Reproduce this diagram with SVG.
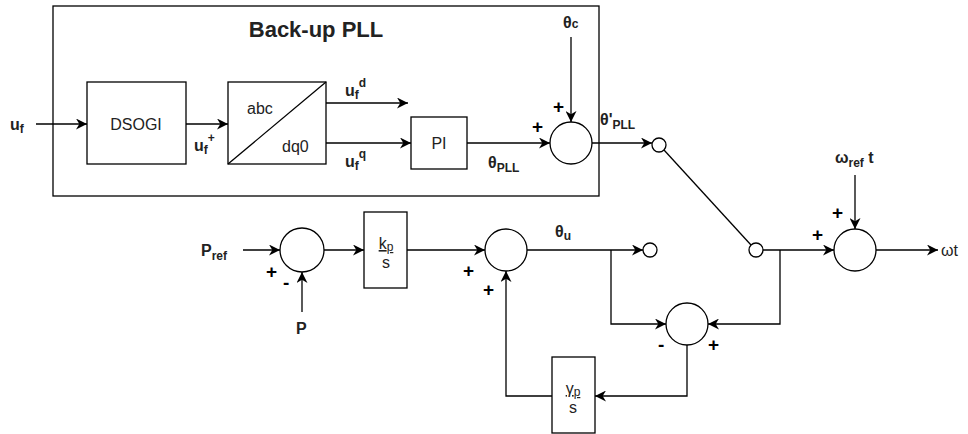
<svg xmlns="http://www.w3.org/2000/svg" width="968" height="434" viewBox="0 0 968 434">
<defs>
<marker id="ah" viewBox="0 0 10 10" refX="10" refY="5" markerWidth="11" markerHeight="11" markerUnits="userSpaceOnUse" orient="auto">
<path d="M0,0 L10,5 L0,10 L3,5 z" fill="#000"/>
</marker>
<style>
.b{fill:#fff;stroke:#000;stroke-width:1.3}
.l{fill:none;stroke:#000;stroke-width:1.3}
.a{fill:none;stroke:#000;stroke-width:1.3;marker-end:url(#ah)}
.t{font-family:"Liberation Sans",Arial,sans-serif;font-size:16px;fill:#222}
.m{font-family:"Liberation Sans",Arial,sans-serif;font-size:16px;font-weight:bold;fill:#222}
.s{font-size:12px}
.pm{font-family:"Liberation Sans",Arial,sans-serif;font-size:19px;font-weight:bold;fill:#000}
</style>
</defs>
<rect width="968" height="434" fill="#fff"/>
<g id="pll-box">
<rect class="b" x="53" y="6" width="546" height="190" fill="none"/>
<text class="t" x="316" y="37" text-anchor="middle" style="font-size:22px;font-weight:bold">Back-up PLL</text>
</g>
<g id="dsogi"><rect class="b" x="87" y="82" width="99" height="82"/><text class="t" x="136" y="130" text-anchor="middle">DSOGI</text></g>
<g id="abc-dq0"><rect class="b" x="228" y="82" width="98" height="82"/><line class="l" x1="228" y1="164" x2="326" y2="82"/><text class="t" x="247" y="114">abc</text><text class="t" x="282" y="152">dq0</text></g>
<g id="pi"><rect class="b" x="411" y="117" width="56" height="52"/><text class="t" x="439" y="149" text-anchor="middle">PI</text></g>
<g id="sum-pll"><circle class="b" cx="571" cy="143" r="21"/></g>
<g id="sw1"><circle class="b" cx="659" cy="145" r="7"/></g>
<g id="sw2"><circle class="b" cx="756" cy="250" r="7"/></g>
<g id="sw3"><circle class="b" cx="650" cy="250" r="7"/></g>
<g id="sum-out"><circle class="b" cx="855" cy="250" r="21"/></g>
<g id="sum-p"><circle class="b" cx="302" cy="250" r="22"/></g>
<g id="kp"><rect class="b" x="364" y="212" width="43" height="76"/><text class="t" x="386" y="249" text-anchor="middle" text-decoration="underline">k<tspan class="s" dy="2">p</tspan></text><text class="t" x="386" y="268" text-anchor="middle">s</text></g>
<g id="sum-u"><circle class="b" cx="506" cy="250" r="21"/></g>
<g id="sum-d"><circle class="b" cx="687" cy="324" r="21"/></g>
<g id="gp"><rect class="b" x="552" y="357" width="43" height="76"/><text class="t" x="573" y="394" text-anchor="middle" text-decoration="underline">γ<tspan class="s" dy="2">p</tspan></text><text class="t" x="573" y="413" text-anchor="middle">s</text></g>
<g id="connectors">
<line class="a" x1="36" y1="124" x2="87" y2="124"/>
<line class="a" x1="186" y1="124" x2="228" y2="124"/>
<line class="a" x1="326" y1="103" x2="408" y2="103"/>
<line class="a" x1="326" y1="143" x2="411" y2="143"/>
<line class="a" x1="467" y1="143" x2="550" y2="143"/>
<line class="a" x1="571" y1="37" x2="571" y2="122"/>
<polyline class="a" points="592,143 652,143"/>
<line class="l" x1="664" y1="150" x2="751" y2="245"/>
<line class="a" x1="763" y1="250" x2="834" y2="250"/>
<line class="a" x1="855" y1="175" x2="855" y2="229"/>
<line class="a" x1="876" y1="250" x2="938" y2="250"/>
<line class="a" x1="243" y1="250" x2="280" y2="250"/>
<line class="a" x1="302" y1="312" x2="302" y2="272"/>
<line class="a" x1="324" y1="250" x2="364" y2="250"/>
<line class="a" x1="407" y1="250" x2="485" y2="250"/>
<line class="a" x1="527" y1="250" x2="643" y2="250"/>
<polyline class="a" points="611,250 611,324 666,324"/>
<polyline class="a" points="780,250 780,324 708,324"/>
<polyline class="a" points="687,345 687,396 595,396"/>
<polyline class="a" points="552,396 506,396 506,271"/>
</g>
<g id="labels">
<text class="m" x="10" y="130">u<tspan class="s" dy="3">f</tspan></text>
<text class="m" x="194" y="151">u<tspan class="s" dy="3">f</tspan><tspan class="s" dy="-12">+</tspan></text>
<text class="m" x="345" y="96">u<tspan class="s" dy="3">f</tspan><tspan class="s" dy="-12">d</tspan></text>
<text class="m" x="345" y="167">u<tspan class="s" dy="3">f</tspan><tspan class="s" dy="-12">q</tspan></text>
<text class="m" x="488" y="168">θ<tspan class="s" dy="4">PLL</tspan></text>
<text class="m" x="563" y="28">θ<tspan class="s">c</tspan></text>
<text class="m" x="600" y="125">θ'<tspan class="s" dy="4">PLL</tspan></text>
<text class="m" x="835" y="163">ω<tspan class="s" dy="4">ref</tspan><tspan dy="-4"> t</tspan></text>
<text class="t" x="941" y="256">ωt</text>
<text class="m" x="201" y="256">P<tspan class="s" dy="4">ref</tspan></text>
<text class="m" x="296" y="334">P</text>
<text class="m" x="555" y="237">θ<tspan class="s" dy="3">u</tspan></text>
<text class="pm" x="553" y="113">+</text>
<text class="pm" x="532" y="133">+</text>
<text class="pm" x="832" y="219">+</text>
<text class="pm" x="812" y="241">+</text>
<text class="pm" x="266" y="278">+</text>
<text class="pm" x="283" y="289">-</text>
<text class="pm" x="463" y="277">+</text>
<text class="pm" x="483" y="296">+</text>
<text class="pm" x="658" y="351">-</text>
<text class="pm" x="708" y="351">+</text>
</g>
</svg>
